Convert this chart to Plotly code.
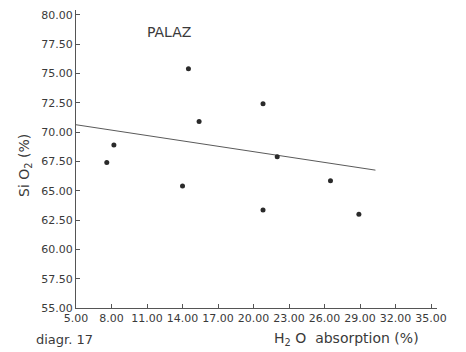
import plotly.graph_objects as go

# data
h2o_absorption = [7.6, 8.2, 14.0, 14.5, 15.4, 20.8, 20.8, 22.0, 26.5, 28.9]
sio2 = [67.4, 68.9, 65.4, 75.4, 70.9, 72.4, 63.35, 67.9, 65.85, 63.0]
trend_x = [5.0, 30.3]
trend_y = [70.62, 66.75]
x_ticks = [5, 8, 11, 14, 17, 20, 23, 26, 29, 32, 35]
y_ticks = [55, 57.5, 60, 62.5, 65, 67.5, 70, 72.5, 75, 77.5, 80]

FONT = "DejaVu Sans"
INK = "#3a3a3a"

L, R, T, B = 76, 29, 10, 44
W, H = 466, 352
pw, ph = W - L - R, H - T - B

def px(xp):
    return (xp - L) / pw

def py(yp):
    return (H - B - yp) / ph

fig = go.Figure()
fig.add_trace(go.Scatter(x=trend_x, y=trend_y, mode="lines",
                         line=dict(color="#5a5a5a", width=1), hoverinfo="skip"))
fig.add_trace(go.Scatter(x=h2o_absorption, y=sio2, mode="markers",
                         marker=dict(color="#2a2a2a", size=5)))

def ann(text, x, y, size, angle=0):
    return dict(text=text, x=px(x), y=py(y), xref="paper", yref="paper",
                xanchor="center", yanchor="middle", showarrow=False,
                textangle=angle, font=dict(size=size, color=INK, family=FONT))

fig.update_layout(
    width=W, height=H,
    margin=dict(l=L, r=R, t=T, b=B),
    paper_bgcolor="white", plot_bgcolor="white",
    showlegend=False,
    font=dict(family=FONT, color=INK, size=11),
    xaxis=dict(range=[5, 35.5], tickvals=x_ticks,
               ticktext=[f"{v:.2f}" for v in x_ticks],
               showgrid=False, zeroline=False, showline=True,
               linecolor="#555", linewidth=1, ticks="inside", ticklen=4,
               tickcolor="#555", tickfont=dict(size=11, color=INK)),
    yaxis=dict(range=[55, 80.4], tickvals=y_ticks,
               ticktext=[f"{v:.2f}" for v in y_ticks],
               showgrid=False, zeroline=False, showline=True,
               linecolor="#555", linewidth=1, ticks="inside", ticklen=4,
               tickcolor="#555", tickfont=dict(size=11, color=INK)),
    annotations=[
        ann("PALAZ", 169, 32, 14),
        ann("Si O<sub>2</sub> (%)", 25, 165, 14, -90),
        ann("H<sub>2</sub> O  absorption (%)", 346, 339, 14),
        ann("diagr. 17", 64, 339, 13),
    ],
)

fig.write_html("out.html")
